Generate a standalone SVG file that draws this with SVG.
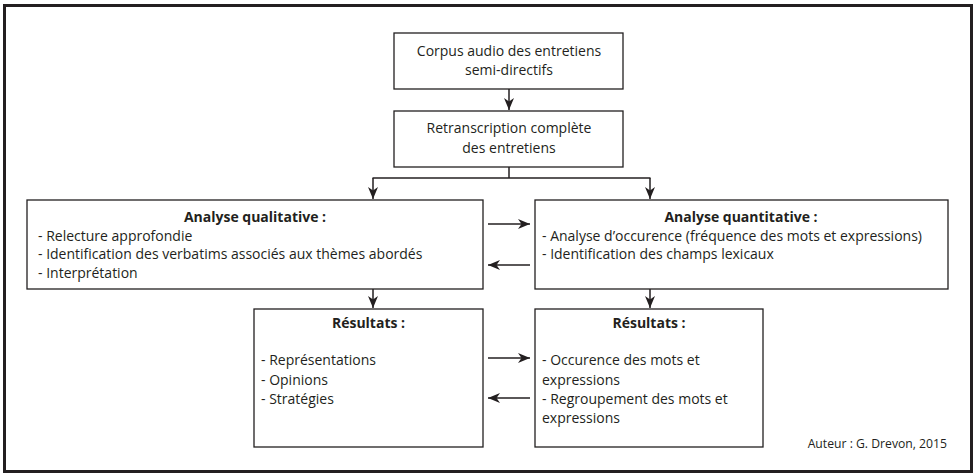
<svg xmlns="http://www.w3.org/2000/svg" width="975" height="473" viewBox="0 0 975 473">
<style>
.box{fill:#fff;stroke:#231f20;stroke-width:1.3}
.t{font-family:"Open Sans","Noto Sans",sans-serif;font-size:14px;fill:#231f20}
.b{font-weight:bold}
.c{text-anchor:middle}
.ln{fill:none;stroke:#231f20;stroke-width:1.5}
</style>
<defs>
<marker id="ah" markerWidth="13" markerHeight="11" refX="12" refY="5.5" orient="auto" markerUnits="userSpaceOnUse">
<path d="M0,0.5 L12,5.5 L0,10.5 L3.5,5.5 Z" fill="#231f20"/>
</marker>
</defs>
<rect x="0" y="0" width="975" height="473" fill="#fff"/>
<rect id="frame" x="4.5" y="5.5" width="967" height="466" fill="none" stroke="#231f20" stroke-width="3"/>

<g id="corpus">
<rect class="box" x="394" y="33" width="229" height="56"/>
<text class="t c" x="509" y="56">Corpus audio des entretiens</text>
<text class="t c" x="509" y="75">semi-directifs</text>
</g>
<g id="retranscription">
<rect class="box" x="394" y="111" width="229" height="56"/>
<text class="t c" x="509" y="133">Retranscription complète</text>
<text class="t c" x="509" y="153">des entretiens</text>
</g>
<g id="qualitative">
<rect class="box" x="27" y="200" width="456" height="89"/>
<text class="t b c" x="255" y="222">Analyse qualitative :</text>
<text class="t" x="38" y="240.5">- Relecture approfondie</text>
<text class="t" x="38" y="259">- Identification des verbatims associés aux thèmes abordés</text>
<text class="t" x="38" y="278">- Interprétation</text>
</g>
<g id="quantitative">
<rect class="box" x="535" y="200" width="413" height="89"/>
<text class="t b c" x="741" y="222">Analyse quantitative :</text>
<text class="t" x="542" y="240.5">- Analyse d’occurence (fréquence des mots et expressions)</text>
<text class="t" x="542" y="259">- Identification des champs lexicaux</text>
</g>
<g id="resultats-qual">
<rect class="box" x="254" y="309" width="229" height="138"/>
<text class="t b c" x="368.5" y="328">Résultats :</text>
<text class="t" x="261" y="365">- Représentations</text>
<text class="t" x="261" y="384.5">- Opinions</text>
<text class="t" x="261" y="404">- Stratégies</text>
</g>
<g id="resultats-quant">
<rect class="box" x="535" y="309" width="228" height="138"/>
<text class="t b c" x="649" y="328">Résultats :</text>
<text class="t" x="542" y="365">- Occurence des mots et</text>
<text class="t" x="542" y="384.5">expressions</text>
<text class="t" x="542" y="404">- Regroupement des mots et</text>
<text class="t" x="542" y="423">expressions</text>
</g>
<text id="auteur" class="t" style="font-size:12.2px" x="947" y="447.5" text-anchor="end">Auteur : G. Drevon, 2015</text>

<g id="connectors">
<line class="ln" x1="509" y1="89" x2="509" y2="110" marker-end="url(#ah)"/>
<polyline class="ln" points="509,167 509,178"/>
<line class="ln" x1="372.5" y1="178" x2="650.5" y2="178"/>
<line class="ln" x1="373" y1="178" x2="373" y2="199" marker-end="url(#ah)"/>
<line class="ln" x1="650" y1="178" x2="650" y2="199" marker-end="url(#ah)"/>
<line class="ln" x1="488" y1="224" x2="530" y2="224" marker-end="url(#ah)"/>
<line class="ln" x1="530" y1="265" x2="488" y2="265" marker-end="url(#ah)"/>
<line class="ln" x1="373" y1="289" x2="373" y2="308" marker-end="url(#ah)"/>
<line class="ln" x1="650" y1="289" x2="650" y2="308" marker-end="url(#ah)"/>
<line class="ln" x1="488" y1="358" x2="530" y2="358" marker-end="url(#ah)"/>
<line class="ln" x1="530" y1="398" x2="488" y2="398" marker-end="url(#ah)"/>
</g>
</svg>
